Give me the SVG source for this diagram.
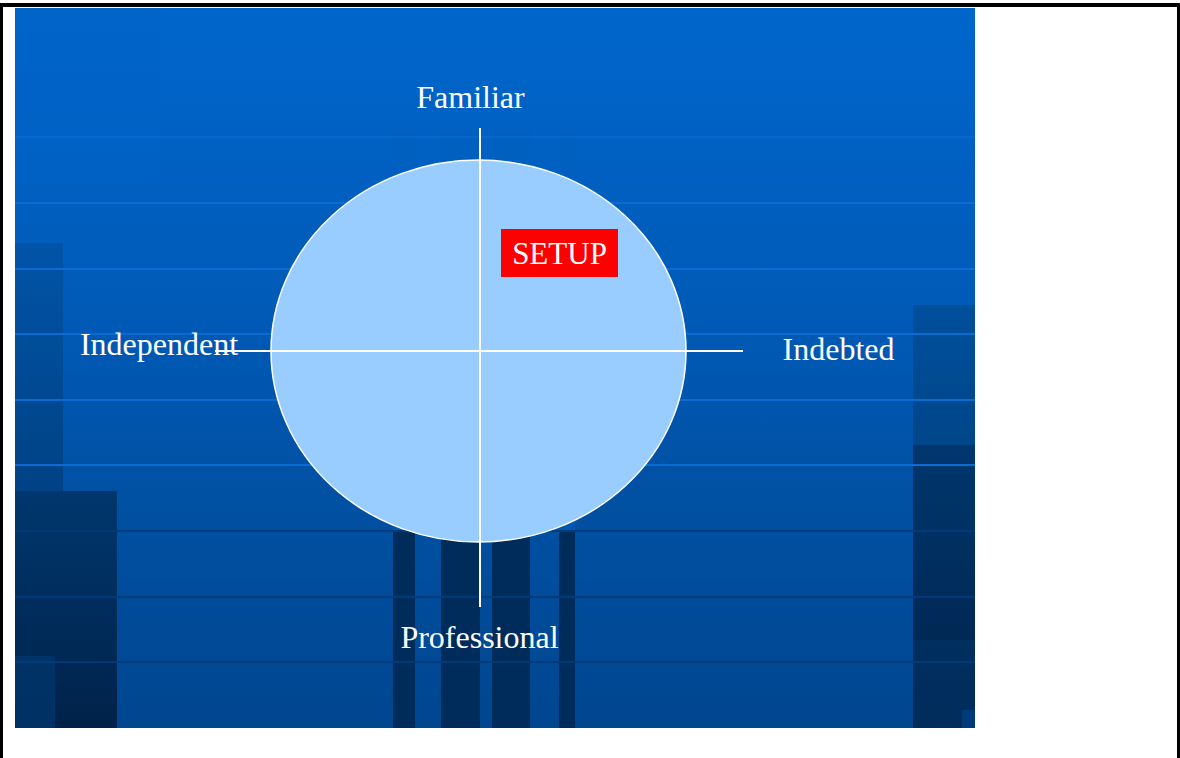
<svg xmlns="http://www.w3.org/2000/svg" width="1180" height="758" viewBox="0 0 1180 758">
<style>
.lbl{font-family:"Liberation Serif","Times New Roman",serif;font-size:32px;fill:#ffffff}
.setup{font-family:"Liberation Serif","Times New Roman",serif;font-size:31px;fill:#ffffff}
.axis{stroke:#ffffff;stroke-width:2;fill:none}
.lt{stroke:#0A6CD2;stroke-width:2}
.dk{stroke:#003A78;stroke-width:2}
</style>
<defs>
<linearGradient id="bg" x1="0" y1="8" x2="0" y2="728" gradientUnits="userSpaceOnUse">
<stop offset="0" stop-color="#0066CC"/>
<stop offset="0.4" stop-color="#005BB8"/>
<stop offset="0.64" stop-color="#0052A6"/>
<stop offset="1" stop-color="#00468F"/>
</linearGradient>
<linearGradient id="dkb" x1="0" y1="0" x2="0" y2="1">
<stop offset="0" stop-color="#00376E"/>
<stop offset="1" stop-color="#00224A"/>
</linearGradient>
<linearGradient id="lc" x1="0" y1="0" x2="0" y2="1">
<stop offset="0" stop-color="#0054A8"/>
<stop offset="1" stop-color="#004284"/>
</linearGradient>
<linearGradient id="rc" x1="0" y1="0" x2="0" y2="1">
<stop offset="0" stop-color="#004F9C"/>
<stop offset="1" stop-color="#00468A"/>
</linearGradient>
</defs>
<rect width="1180" height="758" fill="#ffffff"/>
<g id="background">
<rect x="15" y="8" width="960" height="720" fill="url(#bg)"/>
<rect x="15" y="8" width="145" height="177" fill="#0063C6" opacity="0.6"/>
<rect x="15" y="243" width="48" height="248" fill="url(#lc)"/>
<rect x="913" y="305" width="62" height="140" fill="url(#rc)"/>
<rect x="913" y="445" width="62" height="283" fill="url(#dkb)"/>
<rect x="913" y="640" width="62" height="88" fill="#003368" opacity="0.6"/>
<rect x="962" y="710" width="13" height="18" fill="#003A78"/>
<rect x="15" y="491" width="102" height="237" fill="url(#dkb)"/>
<rect x="15" y="656" width="40" height="72" fill="#00386F" opacity="0.7"/>
<g fill="#002C5C">
<rect x="393" y="530" width="22" height="198"/>
<rect x="441" y="530" width="39" height="198"/>
<rect x="492" y="530" width="38" height="198"/>
<rect x="559" y="530" width="16" height="198"/>
</g>
<g fill="#0060C0" opacity="0.5">
<rect x="393" y="130" width="22" height="400"/>
<rect x="441" y="130" width="39" height="400"/>
<rect x="492" y="130" width="38" height="400"/>
<rect x="559" y="130" width="16" height="400"/>
</g>
<line class="lt" x1="15" y1="137" x2="975" y2="137" opacity="0.6"/>
<line class="lt" x1="15" y1="203" x2="975" y2="203"/>
<line class="lt" x1="15" y1="269" x2="975" y2="269"/>
<line class="lt" x1="15" y1="334" x2="975" y2="334"/>
<line class="lt" x1="15" y1="400" x2="975" y2="400"/>
<line class="lt" x1="15" y1="465" x2="975" y2="465"/>
<line class="dk" x1="15" y1="531" x2="975" y2="531"/>
<line class="dk" x1="15" y1="597" x2="975" y2="597"/>
<line class="dk" x1="15" y1="662" x2="975" y2="662"/>
</g>
<g id="frame" stroke="#000000" fill="none">
<line x1="0" y1="5" x2="1180" y2="5" stroke-width="4"/>
<line x1="1.5" y1="3" x2="1.5" y2="758" stroke-width="3"/>
<line x1="1178.5" y1="3" x2="1178.5" y2="758" stroke-width="3"/>
</g>
<g id="circle">
<ellipse cx="478.5" cy="351" rx="207.5" ry="191" fill="#99CCFF" stroke="#ffffff" stroke-width="1.5"/>
</g>
<g id="connectors">
<line class="axis" x1="480" y1="128" x2="480" y2="607"/>
<line class="axis" x1="215" y1="351" x2="743" y2="351"/>
</g>
<g id="setup">
<rect x="501" y="229" width="117" height="48" fill="#FF0000"/>
<text class="setup" x="559.5" y="264" text-anchor="middle">SETUP</text>
</g>
<g id="familiar"><text class="lbl" x="470.5" y="108" text-anchor="middle">Familiar</text></g>
<g id="independent"><text class="lbl" x="159" y="355" text-anchor="middle">Independent</text></g>
<g id="indebted"><text class="lbl" x="838.5" y="360" text-anchor="middle">Indebted</text></g>
<g id="professional"><text class="lbl" x="479.5" y="648" text-anchor="middle">Professional</text></g>
</svg>
